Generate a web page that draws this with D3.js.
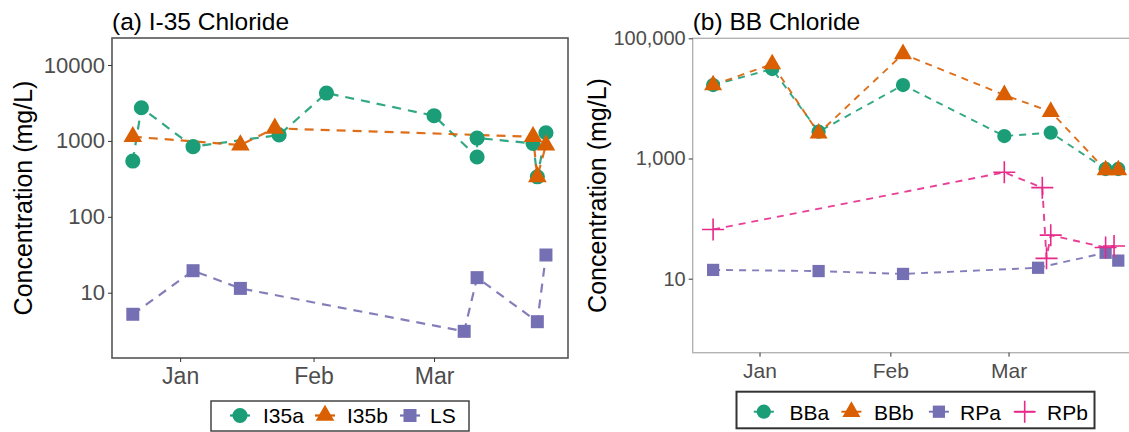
<!DOCTYPE html>
<html>
<head>
<meta charset="utf-8">
<script src="https://cdn.jsdelivr.net/npm/d3@7"></script>
<style>
    body { margin: 0; background: #fff; }
    #chart { width: 1129px; height: 432px; }
    text { font-family: "Liberation Sans", Arial, sans-serif; }
</style>
</head>
<body>
<div id="chart"></div>
<script>

/*
DATA (mg/L, log scale)
*/
const monthTicks = ["2019-01-01", "2019-02-01", "2019-03-01"];

// (a) I-35 Chloride
const i35aDates = ["2018-12-21", "2018-12-23", "2019-01-04", "2019-01-24", "2019-02-04", "2019-03-01",
    "2019-03-11", "2019-03-11", "2019-03-24", "2019-03-25", "2019-03-27"];
const i35aValues = [543, 2735, 840, 1197, 4276, 2148, 614, 1091, 929, 337, 1282];

const i35bDates = ["2018-12-21", "2019-01-15", "2019-01-23", "2019-03-24", "2019-03-25", "2019-03-27"];
const i35bValues = [1135, 883, 1466, 1135, 337, 883];

const lsDates = ["2018-12-21", "2019-01-04", "2019-01-15", "2019-03-08", "2019-03-11", "2019-03-25", "2019-03-27"];
const lsValues = [5.2, 19.5, 11.4, 3.1, 15.8, 4.15, 31.4];

const leftTicks = [10, 100, 1000, 10000];

// (b) BB Chloride
const bbaDates = ["2018-12-21", "2019-01-04", "2019-01-15", "2019-02-04", "2019-02-28", "2019-03-11", "2019-03-24", "2019-03-27"];
const bbaValues = [16700, 30800, 2790, 16700, 2366, 2686, 669, 669];

const bbbDates = ["2018-12-21", "2019-01-04", "2019-01-15", "2019-02-04", "2019-02-28", "2019-03-11", "2019-03-24", "2019-03-27"];
const bbbValues = [16700, 37300, 2625, 54800, 11400, 6010, 643, 643];

const rpaDates = ["2018-12-21", "2019-01-15", "2019-02-04", "2019-03-08", "2019-03-24", "2019-03-27"];
const rpaValues = [14, 13.4, 12, 15.2, 27, 20];

const rpbDates = ["2018-12-21", "2019-02-28", "2019-03-09", "2019-03-10", "2019-03-11", "2019-03-24", "2019-03-26"];
const rpbValues = [66, 589, 327, 21.8, 53, 33, 35];

const rightTicks = [10, 1000, 100000];


/* DARK2 COLOURS */
const green = "#1B9E77", orange = "#D95F02", purple = "#7570B3", pink = "#E7298A";

function makeSeries(name, dates, values, color, shape) {
    return {
        name: name, color: color, shape: shape,
        points: dates.map((d, i) => ({ date: d3.timeParse("%Y-%m-%d")(d), value: values[i] }))
    };
}

const leftSeries = [
    makeSeries("I35a", i35aDates, i35aValues, green, "circle"),
    makeSeries("I35b", i35bDates, i35bValues, orange, "triangle"),
    makeSeries("LS", lsDates, lsValues, purple, "square")
];

const rightSeries = [
    makeSeries("BBa", bbaDates, bbaValues, green, "circle"),
    makeSeries("BBb", bbbDates, bbbValues, orange, "triangle"),
    makeSeries("RPa", rpaDates, rpaValues, purple, "square"),
    makeSeries("RPb", rpbDates, rpbValues, pink, "plus")
];

/* SVG */
const width = 1129, height = 432;
const svg = d3.select("#chart")
    .append("svg")
    .attr("width", width)
    .attr("height", height);

const xDomain = [new Date(2018, 11, 16, 4), new Date(2019, 3, 1, 3)];

function markerPath(shape, s) {
    if (shape === "plus") return "M" + (-s.plus) + ",0H" + s.plus + "M0," + (-s.plus) + "V" + s.plus;
    const type = shape === "circle" ? d3.symbolCircle : shape === "triangle" ? d3.symbolTriangle : d3.symbolSquare;
    return d3.symbol().type(type).size(s[shape])();
}

function drawMarker(g, shape, color, s) {
    const p = g.append("path").attr("d", markerPath(shape, s));
    if (shape === "plus") {
        p.attr("fill", "none").attr("stroke", color).attr("stroke-width", 1.6);
    } else {
        p.attr("fill", color);
    }
    return p;
}

/*
DRAW ONE PANEL
*/
function drawPanel(cfg) {
    const g = svg.append("g");

    const x = d3.scaleTime().domain(xDomain).range([cfg.left, cfg.right]);
    const y = d3.scaleLog().domain(cfg.yDomain).range([cfg.bottom, cfg.top]);

    // lines
    const line = d3.line().x(d => x(d.date)).y(d => y(d.value));
    cfg.series.forEach(s => {
        g.append("path")
            .datum(s.points)
            .attr("d", line)
            .attr("fill", "none")
            .attr("stroke", s.color)
            .attr("stroke-width", cfg.lineWidth)
            .attr("stroke-dasharray", cfg.dash)
            .attr("opacity", 0.9);
    });

    // points
    cfg.series.forEach(s => {
        s.points.forEach(p => {
            const m = g.append("g").attr("transform", `translate(${x(p.date)},${y(p.value)})`);
            drawMarker(m, s.shape, s.color, cfg.sizes);
        });
    });

    // panel border
    g.append("rect")
        .attr("x", cfg.left).attr("y", cfg.top)
        .attr("width", cfg.right - cfg.left).attr("height", cfg.bottom - cfg.top)
        .attr("fill", "none")
        .attr("stroke", cfg.borderColor)
        .attr("stroke-width", cfg.borderWidth);

    // axes
    const yAxis = g.append("g")
        .attr("transform", `translate(${cfg.left},0)`)
        .call(d3.axisLeft(y).tickValues(cfg.yTicks).tickFormat(cfg.yFormat).tickSize(4).tickPadding(3));
    yAxis.select(".domain").remove();
    yAxis.selectAll("line").attr("stroke", "#333");
    yAxis.selectAll("text").attr("fill", "#4d4d4d").style("font-size", cfg.yFont + "px")
        .style("font-family", '"Liberation Sans", Arial, sans-serif');

    const xAxis = g.append("g")
        .attr("transform", `translate(0,${cfg.bottom})`)
        .call(d3.axisBottom(x).tickValues(monthTicks.map(d3.timeParse("%Y-%m-%d")))
            .tickFormat(d3.timeFormat("%b")).tickSize(4).tickPadding(6));
    xAxis.select(".domain").remove();
    xAxis.selectAll("line").attr("stroke", "#333");
    xAxis.selectAll("text").attr("fill", "#4d4d4d").style("font-size", cfg.xFont + "px")
        .style("font-family", '"Liberation Sans", Arial, sans-serif');

    // title
    svg.append("text")
        .attr("x", cfg.left)
        .attr("y", 30)
        .attr("fill", "#000")
        .style("font-size", "24.5px")
        .text(cfg.title);

    // y axis title
    svg.append("text")
        .attr("transform", `translate(${cfg.yTitleX},${(cfg.top + cfg.bottom) / 2}) rotate(-90)`)
        .attr("text-anchor", "middle")
        .attr("fill", "#000")
        .style("font-size", "25px")
        .text("Concentration (mg/L)");

    // legend
    const lg = cfg.legend;
    svg.append("rect")
        .attr("x", lg.x).attr("y", lg.y)
        .attr("width", lg.w).attr("height", lg.h)
        .attr("fill", "#fff")
        .attr("stroke", lg.stroke)
        .attr("stroke-width", lg.strokeWidth);

    cfg.series.forEach((s, i) => {
        const k = svg.append("g").attr("transform", `translate(${lg.keys[i]},${lg.cy})`);
        k.append("line").attr("x1", -10).attr("x2", 10)
            .attr("stroke", s.color).attr("stroke-width", cfg.lineWidth);
        drawMarker(k, s.shape, s.color, cfg.sizes);
        svg.append("text")
            .attr("x", lg.labels[i])
            .attr("y", lg.baseline)
            .attr("fill", "#000")
            .style("font-size", "21px")
            .text(s.name);
    });
}

drawPanel({
    title: "(a) I-35 Chloride",
    series: leftSeries,
    left: 112, right: 568, top: 38, bottom: 358,
    yDomain: [1.38, 22700],
    yTicks: leftTicks,
    yFormat: d3.format("d"),
    yFont: 22, xFont: 23,
    yTitleX: 32,
    lineWidth: 2.2, dash: "9,7",
    sizes: { circle: 180, triangle: 150, square: 169, plus: 10 },
    borderColor: "#555", borderWidth: 1.6,
    legend: { x: 211, y: 401, w: 258, h: 30, stroke: "#444", strokeWidth: 1.5,
        cy: 415.5, baseline: 423, keys: [240, 325, 410], labels: [263, 347, 430] }
});

drawPanel({
    title: "(b) BB Chloride",
    series: rightSeries,
    left: 692.7, right: 1139.9, top: 38.3, bottom: 352.7,
    yDomain: [0.587, 100000],
    yTicks: rightTicks,
    yFormat: d3.format(","),
    yFont: 20, xFont: 21,
    yTitleX: 606,
    lineWidth: 1.9, dash: "7,6",
    sizes: { circle: 160, triangle: 140, square: 150, plus: 11 },
    borderColor: "#b3b3b3", borderWidth: 1.4,
    legend: { x: 736.5, y: 391.7, w: 358, h: 36.6, stroke: "#333", strokeWidth: 2,
        cy: 411.7, baseline: 420, keys: [763.8, 851.4, 938.9, 1024.7], labels: [789.4, 874, 960, 1047] }
});

</script>
</body>
</html>
